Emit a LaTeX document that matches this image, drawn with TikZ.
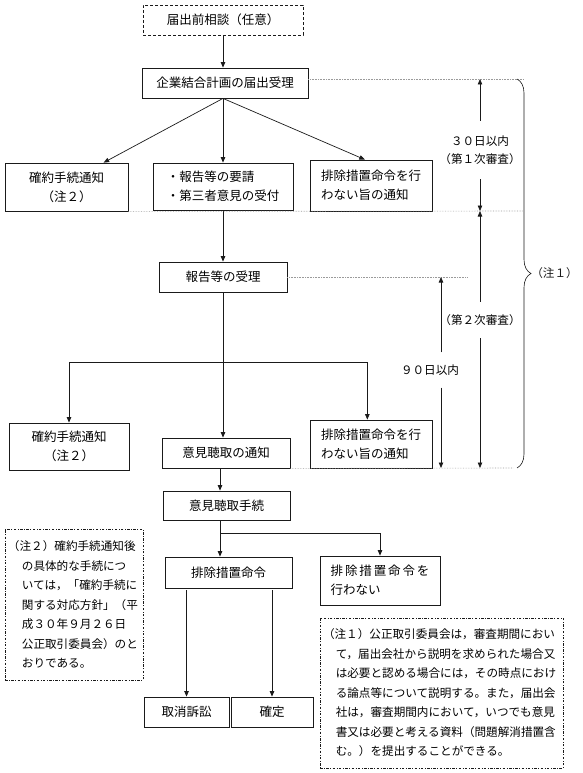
\documentclass[tikz,border=0pt]{standalone}
\usepackage{fontspec}
\setmainfont{Noto Sans CJK JP}
\usepackage{tikz}
\usetikzlibrary{positioning, arrows.meta, calc, decorations.pathreplacing}
\definecolor{inkblack}{HTML}{1A1A1A}
\definecolor{guidegray}{HTML}{9A9A9A}

\begin{document}
\begin{tikzpicture}[x=1pt, y=-1pt,
    box/.style={draw=inkblack, line width=0.8pt, inner sep=0pt, font=\fontsize{12.5}{19}\selectfont},
    notebox/.style={draw=inkblack, line width=0.6pt, dash pattern=on 2.5pt off 1.5pt on 0.8pt off 1.5pt,
                    inner xsep=3pt, inner ysep=0pt, align=left, font=\fontsize{11.6}{19.5}\selectfont},
    flow/.style={draw=inkblack, line width=0.7pt, -{Triangle[length=5.5pt,width=4.5pt]}},
    guide/.style={draw=guidegray, line width=0.6pt, densely dotted},
    span/.style={inner sep=0pt, align=center, font=\fontsize{11.6}{18}\selectfont}]
    \useasboundingbox (0,0) rectangle (582,773);

    \node[box, dash pattern=on 3pt off 2pt, minimum width=160pt, minimum height=30pt] (pre) at (223,20) {届出前相談（任意）};
    \node[box, minimum width=166pt, minimum height=30pt] (plan) at (225,83) {企業結合計画の届出受理};
    \node[box, align=center, minimum width=123pt, minimum height=48pt] (kakuyakuA) at (66.5,187) {確約手続通知\\（注２）};
    \node[box, align=left, minimum width=140pt, minimum height=47pt] (request) at (223,186.5) {・報告等の要請\\・第三者意見の受付};
    \node[box, align=left, minimum width=122pt, minimum height=51pt] (noticeA) at (371,185.5) {排除措置命令を行\\わない旨の通知};
    \node[box, minimum width=128pt, minimum height=30pt] (receipt) at (223,277) {報告等の受理};
    \node[box, align=center, minimum width=120pt, minimum height=47pt] (kakuyakuB) at (69,446.5) {確約手続通知\\（注２）};
    \node[box, minimum width=128pt, minimum height=30pt] (hearnotice) at (226,453) {意見聴取の通知};
    \node[box, align=left, minimum width=122pt, minimum height=48pt] (noticeB) at (371,444) {排除措置命令を行\\わない旨の通知};
    \node[box, minimum width=127pt, minimum height=29pt] (hearing) at (226.5,505.5) {意見聴取手続};
    \node[box, minimum width=127pt, minimum height=31pt] (order) at (228.5,572.5) {排除措置命令};
    \node[box, align=left, minimum width=120pt, minimum height=49pt] (noorder) at (380,580.5) {{\addfontfeature{LetterSpace=15}排除措置命令を}\\行わない};
    \node[box, minimum width=85pt, minimum height=30pt] (suit) at (186.5,712) {取消訴訟};
    \node[box, minimum width=82pt, minimum height=30pt] (final) at (272,712) {確定};

    \node[notebox, text width=132pt, minimum height=151pt] (noteB) at (74,604.5) {%
      （注２）確約手続通知後\\
      \hspace*{1.2em}の具体的な手続につ\\
      \hspace*{1.2em}いては，「確約手続に\\
      \hspace*{1.2em}関する対応方針」（平\\
      \hspace*{1.2em}成３０年９月２６日\\
      \hspace*{1.2em}公正取引委員会）のと\\
      \hspace*{1.2em}おりである。};
    \node[notebox, text width=237pt, minimum height=150pt] (noteA) at (441.5,693) {%
      （注１）公正取引委員会は，審査期間におい\\
      \hspace*{1.1em}て，届出会社から説明を求められた場合又\\
      \hspace*{1.1em}は必要と認める場合には，その時点におけ\\
      \hspace*{1.1em}る論点等について説明する。また，届出会\\
      \hspace*{1.1em}社は，審査期間内において，いつでも意見\\
      \hspace*{1.1em}書又は必要と考える資料（問題解消措置含\\
      \hspace*{1.1em}む。）を提出することができる。};

    \coordinate (colA) at (223,0);
    \coordinate (colB) at (220,0);
    \coordinate (colC) at (441,0);
    \coordinate (forkA) at (223,362);
    \coordinate (forkB) at (220,533);
    \draw[flow] (pre.south -| colA) -- (plan.north -| colA);
    \draw[flow] (plan.south -| colA) -- ($(kakuyakuA.north west)!0.8!(kakuyakuA.north east)$);
    \draw[flow] (plan.south -| colA) -- (request.north -| colA);
    \draw[flow] (plan.south -| colA) -- ($(noticeA.north west)!0.45!(noticeA.north east)$);
    \draw[flow] (request.south -| colA) -- (receipt.north -| colA);
    \draw[flow] (receipt.south -| colA) -- (hearnotice.north -| colA);
    \draw[flow] (forkA) -| (kakuyakuB.north);
    \draw[flow] (forkA) -| ($(noticeB.north west)!0.47!(noticeB.north east)$);
    \draw[flow] (hearnotice.south -| colB) -- (hearing.north -| colB);
    \draw[flow] (hearing.south -| colB) -- (order.north -| colB);
    \draw[flow] (forkB) -| (noorder.north);
    \draw[flow, shorten <=2pt] (order.south -| suit.north) -- (suit.north);
    \draw[flow, shorten <=2pt] (order.south -| final.north) -- (final.north);

    \coordinate (markA) at (523,79);
    \coordinate (markB) at (523,211);
    \coordinate (markC) at (468,277);
    \coordinate (markD) at (513,468);
    \draw[guide] (plan.east |- markA) -- (markA);
    \draw[guide] (kakuyakuA.south east) -- (markB);
    \draw[guide] (receipt.east) -- (markC);
    \draw[guide] (hearnotice.south east) -- (markD);

    \node[span, minimum height=58pt] (spanA) at (480,150) {３０日以内\\（第１次審査）};
    \draw[flow] (spanA.north) -- (spanA.north |- markA);
    \draw[flow] (spanA.south) -- (spanA.south |- markB);
    \node[span, minimum height=36pt] (spanB) at (480,320) {（第２次審査）};
    \draw[flow] (spanB.north) -- (spanB.north |- markB);
    \draw[flow] (spanB.south) -- (spanB.south |- markD);
    \node[span, minimum height=35pt] (spanC) at (430,370) {９０日以内};
    \draw[flow] (spanC.north -| colC) -- (markC -| colC);
    \draw[flow] (spanC.south -| colC) -- (markD -| colC);

    \coordinate (braceTop) at (517,79);
    \coordinate (braceBot) at (517,468);
    \draw[inkblack, line width=0.6pt, decorate, decoration={brace, amplitude=14pt}] (braceTop) -- (braceBot)
      node[span, midway, anchor=west, xshift=14pt] (noteref) {（注１）};
  \end{tikzpicture}
\end{document}
